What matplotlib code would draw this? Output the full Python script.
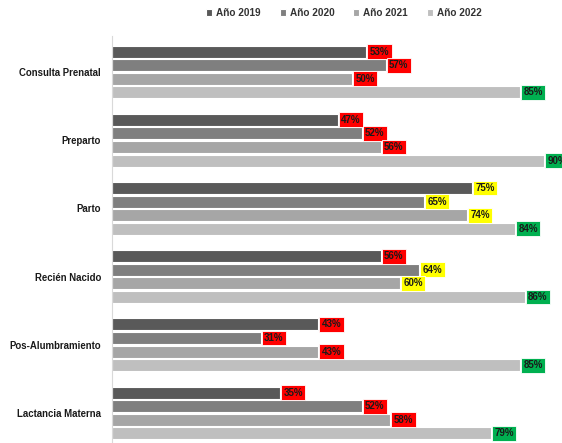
import matplotlib
matplotlib.use("Agg")
import matplotlib.pyplot as plt
import numpy as np

categories = ["Consulta Prenatal", "Preparto", "Parto", "Recién Nacido",
              "Pos-Alumbramiento", "Lactancia Materna"]
series_names = ["Año 2019", "Año 2020", "Año 2021", "Año 2022"]
values = {
    "Año 2019": [53, 47, 75, 56, 43, 35],
    "Año 2020": [57, 52, 65, 64, 31, 52],
    "Año 2021": [50, 56, 74, 60, 43, 58],
    "Año 2022": [85, 90, 84, 86, 85, 79],
}
bar_colors = ["#595959", "#7f7f7f", "#a6a6a6", "#bfbfbf"]

def box_color(v):
    if v >= 79:
        return "#00b050"
    if v >= 60:
        return "#ffff00"
    return "#ff0000"

plt.rcParams['font.family'] = ['Liberation Sans Narrow', 'Liberation Sans', 'DejaVu Sans']

fig = plt.figure(figsize=(5.62, 4.43), dpi=100)
W, H = 562, 443
ax = fig.add_axes([112 / W, 0, 450 / W, (H - 36) / H])

n = len(categories)
y = np.arange(n)
pitch = 0.2
bh = 0.175
for k, s in enumerate(series_names):
    off = (k - 1.5) * pitch
    vals = values[s]
    ax.barh(y + off, vals, height=bh, color=bar_colors[k], edgecolor="white",
            linewidth=0.8, label=s, zorder=2)
    for i, v in enumerate(vals):
        ax.text(v + 0.7, y[i] + off, f"{v}%", ha="left", va="center",
                fontsize=7.0, fontweight="bold", color="#1a1a1a",
                clip_on=False, zorder=3,
                bbox=dict(boxstyle="square,pad=0.25", facecolor=box_color(v),
                          edgecolor="white", linewidth=0.6))

ax.set_xlim(0, 93.75)
ax.set_ylim(5.44, -0.528)
ax.set_xticks([])
ax.set_yticks(y)
ax.set_yticklabels(categories, fontsize=6.9, fontweight="bold", color="#1a1a1a")
ax.tick_params(axis="y", length=0, pad=8)
for sp in ["top", "right", "bottom"]:
    ax.spines[sp].set_visible(False)
ax.spines["left"].set_color("#d9d9d9")
ax.spines["left"].set_linewidth(0.8)

leg = fig.legend(loc="center", bbox_to_anchor=(0.612, 1 - 13 / H), ncol=4,
                 frameon=False, handlelength=0.6, handleheight=0.6,
                 handletextpad=0.4, columnspacing=1.9,
                 prop={"weight": "bold", "size": 7.2})
for t in leg.get_texts():
    t.set_color("#333333")

fig.savefig("out.png", dpi=100)
